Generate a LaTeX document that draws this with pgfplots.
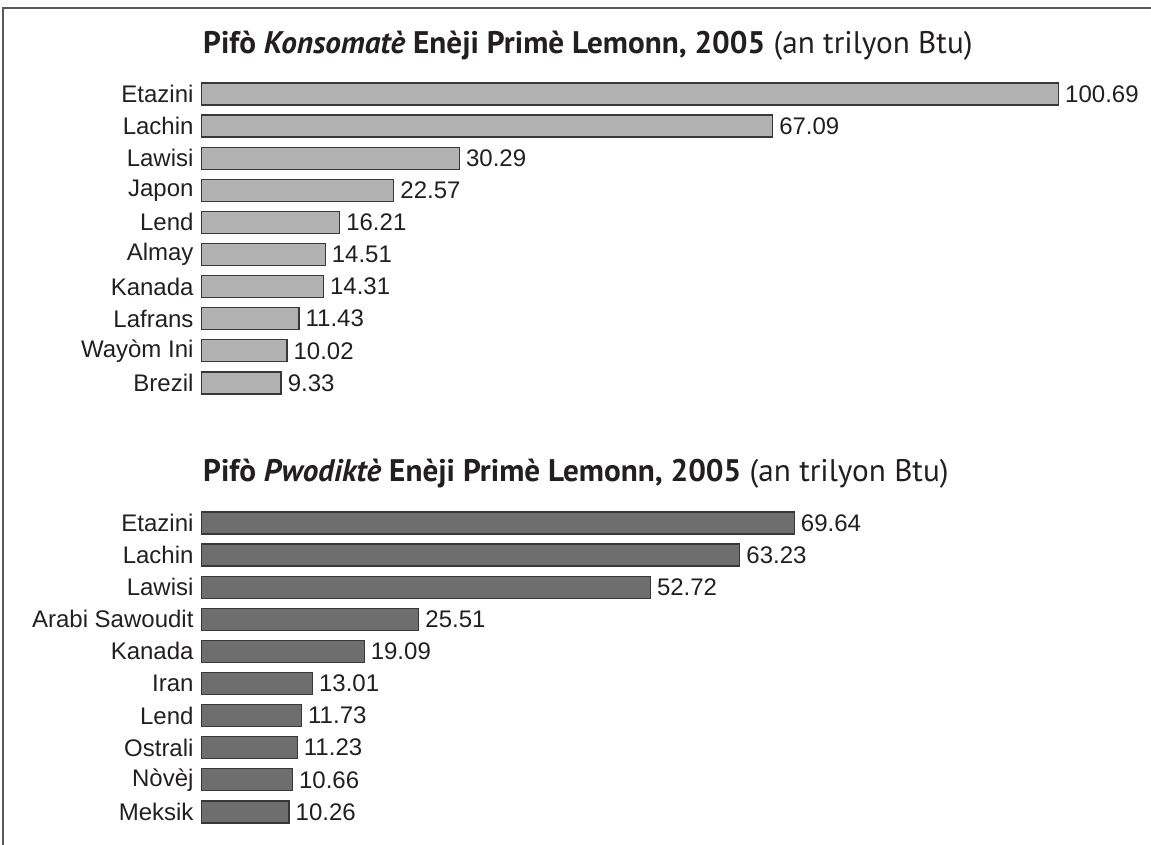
\documentclass[border=0pt]{standalone}
\usepackage{pgfplots}
\pgfplotsset{compat=1.18}
\usepackage{fontspec}
\setmainfont{Liberation Sans}
\newfontfamily\titlefont{PT Sans}
\definecolor{lightbar}{gray}{0.70}
\definecolor{darkbar}{gray}{0.43}
\definecolor{edge}{gray}{0.22}
\definecolor{txt}{RGB}{35,31,32}
\newcommand{\lblfont}{\fontsize{24}{26}\selectfont}
\pgfplotsset{
  mybar/.style={
    xbar, scale only axis, width=936.1pt, height=321pt,
    xmin=0, xmax=110, ymin=-0.5, ymax=9.5, y dir=reverse,
    axis line style={draw=none}, tick style={draw=none}, major tick length=0pt,
    xtick=\empty, ytick={0,...,9},
    yticklabel style={font=\lblfont, text=txt, inner xsep=0pt, xshift=-8pt},
    bar width=22pt, bar shift=0pt, clip=false,
    point meta=x,
    nodes near coords, nodes near coords align=horizontal,
    every node near coord/.append style={font=\lblfont, text=txt, anchor=west, inner xsep=0pt, xshift=6pt},
    /pgf/number format/.cd, fixed, fixed zerofill, precision=2, assume math mode=true, 1000 sep={},
  }
}
\begin{document}
\begin{tikzpicture}[x=1pt,y=1pt]
\useasboundingbox (0,0) rectangle (1151,845);
\draw[line width=1.2pt, black!65] (3,0) -- (3,837) -- (1151,837);
\begin{axis}[mybar, at={(201.7pt,446.05pt)}, anchor=south west,
  yticklabels={Etazini,Lachin,Lawisi,Japon,Lend,Almay,Kanada,Lafrans,Wayòm Ini,Brezil}]
\addplot[fill=lightbar, draw=edge, line width=1.3pt] coordinates {
 (100.69,0) (67.09,1) (30.29,2) (22.57,3) (16.21,4) (14.51,5) (14.31,6) (11.43,7) (10.02,8) (9.33,9)};
\end{axis}
\begin{axis}[mybar, at={(201.7pt,17.05pt)}, anchor=south west,
  yticklabels={Etazini,Lachin,Lawisi,Arabi Sawoudit,Kanada,Iran,Lend,Ostrali,Nòvèj,Meksik}]
\addplot[fill=darkbar, draw=edge, line width=1.3pt] coordinates {
 (69.64,0) (63.23,1) (52.72,2) (25.51,3) (19.09,4) (13.01,5) (11.73,6) (11.23,7) (10.66,8) (10.26,9)};
\end{axis}
\node[anchor=base west, text=txt, inner sep=0pt, font=\titlefont\fontsize{31.2}{34}\selectfont] at (203,791.7)
  {\textbf{Pifò \textit{Konsomatè} Enèji Primè Lemonn, 2005} (an trilyon Btu)};
\node[anchor=base west, text=txt, inner sep=0pt, font=\titlefont\fontsize{31.2}{34}\selectfont] at (203,363.5)
  {\textbf{Pifò \textit{Pwodiktè} Enèji Primè Lemonn, 2005} (an trilyon Btu)};
\end{tikzpicture}
\end{document}
